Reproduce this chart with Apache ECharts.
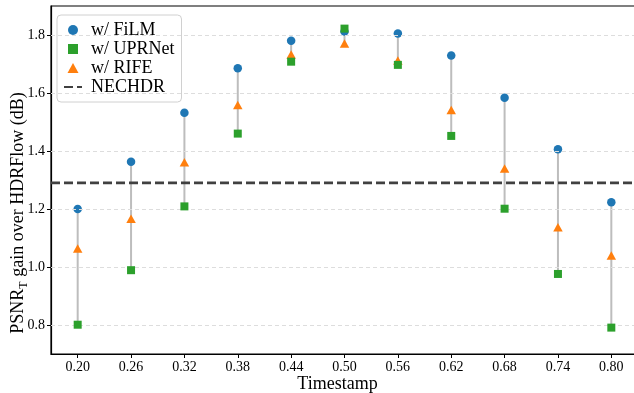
<!DOCTYPE html>
<html>
<head>
<meta charset="utf-8">
<script src="https://cdn.jsdelivr.net/npm/echarts@6/dist/echarts.min.js"></script>
<style>
html,body{margin:0;padding:0;background:#fff;}
#chart{width:634px;height:393px;}
</style>
</head>
<body>
<div id="chart"></div>
<script>
const timestamps = [0.20, 0.26, 0.32, 0.38, 0.44, 0.50, 0.56, 0.62, 0.68, 0.74, 0.80];
const film   = [1.200, 1.363, 1.532, 1.685, 1.780, 1.812, 1.805, 1.729, 1.584, 1.406, 1.223];
const uprnet = [0.801, 0.989, 1.209, 1.460, 1.708, 1.822, 1.697, 1.452, 1.201, 0.976, 0.791];
const rife   = [1.064, 1.166, 1.361, 1.559, 1.733, 1.771, 1.712, 1.541, 1.340, 1.137, 1.040];
const nechdr = 1.29;
const xTicks = [0.20, 0.26, 0.32, 0.38, 0.44, 0.50, 0.56, 0.62, 0.68, 0.74, 0.80];
const yTicks = [0.8, 1.0, 1.2, 1.4, 1.6, 1.8];
const xRange = [0.17, 0.83];
const yRange = [0.7, 1.9];

const FONT = '"Liberation Serif", "DejaVu Serif", serif';
const chart = echarts.init(document.getElementById('chart'), null, {renderer: 'canvas'});

const ranges = timestamps.map((t, i) => {
  const vals = [film[i], uprnet[i], rife[i]];
  return [t, Math.min.apply(null, vals), Math.max.apply(null, vals)];
});

const option = {
  animation: false,
  backgroundColor: '#fff',
  textStyle: {fontFamily: FONT},
  grid: {left: 51, right: -4, top: 6, bottom: 39, outerBoundsMode: 'none', containLabel: false,
    show: true, borderColor: '#000', borderWidth: 1.2, backgroundColor: 'transparent'},
  legend: {
    data: [
      {name: 'w/ FiLM', icon: 'circle'},
      {name: 'w/ UPRNet', icon: 'path://M0,0 L10,0 L10,10 L0,10 Z'},
      {name: 'w/ RIFE', icon: 'path://M5.5,0 L11,10 L0,10 Z'},
      'NECHDR'
    ],
    orient: 'vertical',
    left: 57, top: 15,
    padding: [6, 7, 6, 6],
    itemWidth: 18, itemHeight: 10, itemGap: 1,
    symbolKeepAspect: true,
    backgroundColor: 'rgba(255,255,255,0.85)',
    borderColor: '#d0d0d0', borderWidth: 1, borderRadius: 4,
    textStyle: {fontFamily: FONT, fontSize: 18, color: '#000', padding: [0, 0, 0, 4], lineHeight: 17}
  },
  xAxis: {
    type: 'value', min: xRange[0], max: xRange[1],
    name: 'Timestamp', nameLocation: 'middle', nameGap: 21, nameMoveOverlap: false,
    nameTextStyle: {fontFamily: FONT, fontSize: 18, color: '#000', padding: [0, 14, 0, 0]},
    axisLine: {show: true, lineStyle: {color: '#000', width: 1.2}},
    axisTick: {show: true, inside: false, length: 4, customValues: xTicks, lineStyle: {color: '#000'}},
    axisLabel: {customValues: xTicks, fontFamily: FONT, fontSize: 14, color: '#000', margin: 6,
      formatter: v => v.toFixed(2)},
    splitLine: {show: false}
  },
  yAxis: {
    type: 'value', min: yRange[0], max: yRange[1],
    name: '{m|PSNR}{s|T}{m| gain over HDRFlow (dB)}', nameLocation: 'middle', nameGap: 24, nameMoveOverlap: false,
    nameTextStyle: {fontFamily: FONT, fontSize: 18, color: '#000', padding: [0, 66, 0, 0],
      rich: {
        m: {fontFamily: FONT, fontSize: 18, color: '#000', lineHeight: 18, verticalAlign: 'top'},
        s: {fontFamily: FONT, fontSize: 12, color: '#000', lineHeight: 12, padding: [9, 0, 0, 0], verticalAlign: 'top'}
      }},
    axisLine: {show: true, lineStyle: {color: '#000', width: 1.2}},
    axisTick: {show: true, inside: false, length: 4, customValues: yTicks, lineStyle: {color: '#000'}},
    axisLabel: {customValues: yTicks, fontFamily: FONT, fontSize: 14, color: '#000', margin: 6,
      formatter: v => v.toFixed(1)},
    splitLine: {show: false}
  },
  series: [
    {
      name: 'grid', type: 'line', data: [], silent: true, z: 0,
      markLine: {
        silent: true, symbol: 'none', label: {show: false},
        lineStyle: {color: '#dddddd', type: [4, 3], width: 1},
        data: yTicks.map(v => ({yAxis: v}))
      }
    },
    {
      name: 'range', type: 'custom', z: 1, silent: true,
      data: ranges,
      renderItem: function (params, api) {
        const p1 = api.coord([api.value(0), api.value(1)]);
        const p2 = api.coord([api.value(0), api.value(2)]);
        return {type: 'line', shape: {x1: p1[0], y1: p1[1], x2: p2[0], y2: p2[1]},
          style: {stroke: '#bdbdbd', lineWidth: 2}};
      }
    },
    {
      name: 'NECHDR', type: 'line', z: 2, symbol: 'none', silent: true,
      data: [[xRange[0], nechdr], [xRange[1], nechdr]],
      itemStyle: {color: 'rgba(0,0,0,0)'},
      lineStyle: {color: '#404040', width: 2.6, type: [9, 4]}
    },
    {
      name: 'w/ FiLM', type: 'scatter', z: 3, symbol: 'circle', symbolSize: 8.5,
      data: timestamps.map((t, i) => [t, film[i]]),
      itemStyle: {color: '#1f77b4', opacity: 1}
    },
    {
      name: 'w/ RIFE', type: 'scatter', z: 4, symbol: 'triangle', symbolSize: [9.5, 8.5],
      data: timestamps.map((t, i) => [t, rife[i]]),
      itemStyle: {color: '#ff7f0e', opacity: 1}
    },
    {
      name: 'w/ UPRNet', type: 'scatter', z: 5, symbol: 'rect', symbolSize: 8,
      data: timestamps.map((t, i) => [t, uprnet[i]]),
      itemStyle: {color: '#2ca02c', opacity: 1}
    }
  ]
};
chart.setOption(option);
</script>
</body>
</html>
